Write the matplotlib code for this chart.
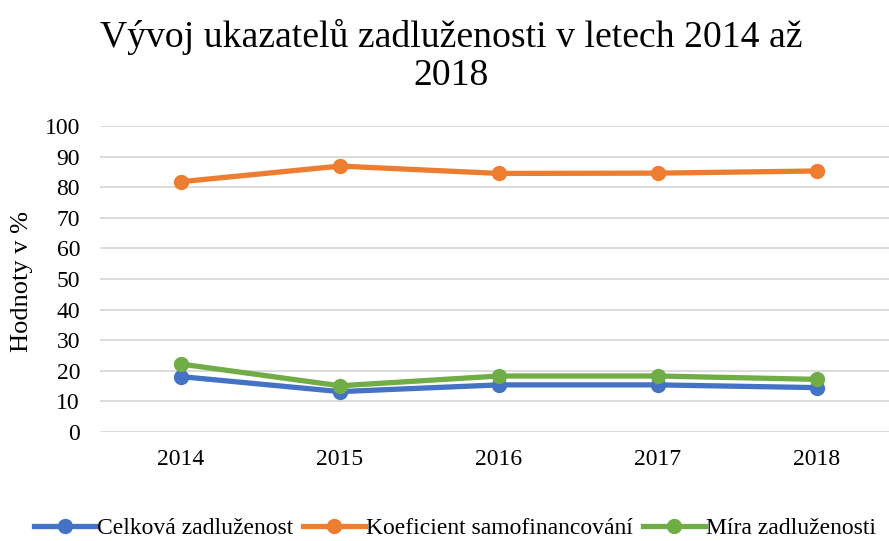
import matplotlib
matplotlib.use("Agg")
import matplotlib.pyplot as plt
from matplotlib.lines import Line2D

years = ["2014", "2015", "2016", "2017", "2018"]
celkova = [18.1, 13.2, 15.4, 15.4, 14.5]
koeficient = [81.8, 86.9, 84.5, 84.6, 85.3]
mira = [22.2, 15.1, 18.3, 18.3, 17.2]
series_names = ["Celková zadluženost", "Koeficient samofinancování", "Míra zadluženosti"]
colors = ["#4472C4", "#ED7D31", "#70AD47"]

plt.rcParams['font.family'] = ['Liberation Serif', 'DejaVu Serif']

fig = plt.figure(figsize=(8.89, 5.41), dpi=100)
ax = fig.add_axes([100/889, (541-432)/541, 789/889, 306/541])

x = list(range(len(years)))
for vals, c in zip([celkova, koeficient, mira], colors):
    ax.plot(x, vals, color=c, lw=3.8, marker='o', ms=10, solid_capstyle='round', zorder=3)

ax.set_ylim(0, 100)
ax.set_xlim(-0.509, 4.453)
ax.set_yticks(range(0, 101, 10))
ax.set_xticks(x)
ax.set_xticklabels(years)
ax.tick_params(axis='both', length=0, labelsize=17, colors='#000000')
ax.tick_params(axis='y', pad=14.4)
ax.tick_params(axis='x', pad=12)
ax.grid(axis='y', color='#D9D9D9', lw=1.3)
ax.set_axisbelow(True)
for s in ax.spines.values():
    s.set_visible(False)

fig.text(22/889, 1 - 282/541, "Hodnoty v %", rotation=90, ha='center', va='center', fontsize=19)
fig.text(451/889, 1 - 56/541, "Vývoj ukazatelů zadluženosti v letech 2014 až\n2018",
         ha='center', va='center', fontsize=27.2, linespacing=1.1)

handles = [Line2D([0], [0], color=c, lw=3.8, marker='o', ms=10) for c in colors]
fig.legend(handles, series_names, loc='center', bbox_to_anchor=(455/889, 1 - 528/541),
           ncol=3, frameon=False, fontsize=17, handlelength=2.6, handletextpad=0.05,
           columnspacing=0.45, borderpad=0, borderaxespad=0)

fig.savefig("out.png", dpi=100)
